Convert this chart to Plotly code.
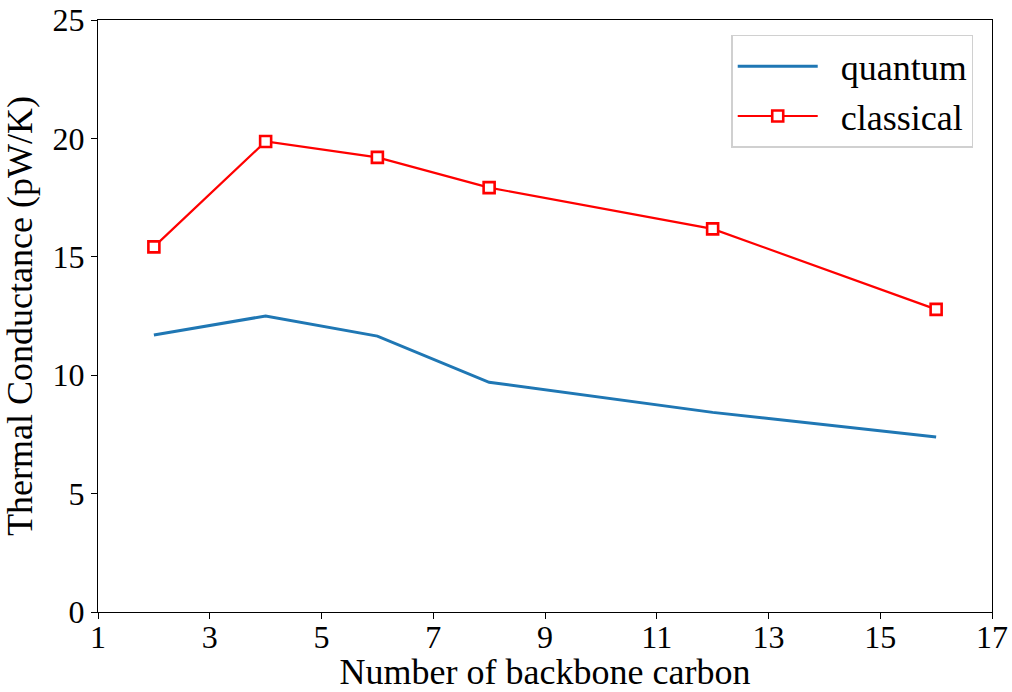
import plotly.graph_objects as go

# Number of backbone carbon atoms
carbons = [2, 4, 6, 8, 12, 16]

# Thermal conductance (pW/K)
quantum = [11.7, 12.5, 11.65, 9.7, 8.43, 7.39]
classical = [15.42, 19.87, 19.2, 17.92, 16.18, 12.78]

x_ticks = [1, 3, 5, 7, 9, 11, 13, 15, 17]
y_ticks = [0, 5, 10, 15, 20, 25]

font_family = "Liberation Serif"
pad = "\u00a0\u00a0"  # gap between legend sample and label

fig = go.Figure()
fig.add_trace(go.Scatter(
    x=carbons, y=quantum, mode="lines", name=pad + "quantum",
    line=dict(color="#1f77b4", width=3),
))
fig.add_trace(go.Scatter(
    x=carbons, y=classical, mode="lines+markers", name=pad + "classical",
    line=dict(color="#ff0000", width=2.2),
    marker=dict(symbol="square", size=11, color="white",
                line=dict(color="#ff0000", width=2.6)),
))

axis_common = dict(
    showgrid=False, zeroline=False, showline=True, mirror=True,
    linecolor="black", linewidth=1.2, ticks="outside", ticklen=6,
    tickwidth=1.2, tickcolor="black", automargin=False,
    tickfont=dict(family=font_family, size=32, color="black"),
)

fig.update_xaxes(
    range=[1, 17], tickvals=x_ticks, ticklabelstandoff=-10,
    title=dict(text="Number of backbone carbon", standoff=23,
               font=dict(family=font_family, size=36, color="black")),
    **axis_common,
)
fig.update_yaxes(
    range=[0, 25], tickvals=y_ticks,
    title=dict(text="Thermal Conductance (pW/K)", standoff=8,
               font=dict(family=font_family, size=36, color="black")),
    **axis_common,
)

fig.update_layout(
    width=1012, height=692,
    margin=dict(l=98, r=20, t=20, b=80),
    plot_bgcolor="white", paper_bgcolor="white",
    font=dict(family=font_family, color="black"),
    legend=dict(
        x=0.979, y=0.975, xanchor="right", yanchor="top",
        bgcolor="white", bordercolor="#d0d0d0", borderwidth=1.5,
        font=dict(family=font_family, size=36, color="black"),
        itemwidth=80, tracegroupgap=4,
    ),
)

fig.write_html("out.html")
